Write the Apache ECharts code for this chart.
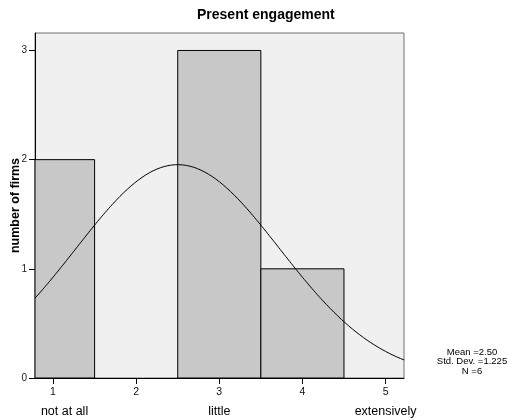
<!DOCTYPE html>
<html>
<head>
<meta charset="utf-8">
<script src="https://cdn.jsdelivr.net/npm/echarts@6/dist/echarts.min.js"></script>
<style>
  html, body { margin: 0; padding: 0; background: #ffffff; }
  #chart { width: 508px; height: 420px; }
</style>
</head>
<body>
<div id="chart"></div>
<script>
// Histogram of present engagement (1 = not at all ... 5 = extensively)
const binCenters = [1, 2, 3, 4, 5];
const binCounts = [2, 0, 3, 1, 0];
const xTickValues = [1, 2, 3, 4, 5];
const yTickValues = [0, 1, 2, 3];
const scaleLabels = { 1: 'not at all', 3: 'little', 5: 'extensively' };

// Summary statistics shown beside the plot
const statMean = 2.5;
const statSd = 1.225;
const statN = 6;
const binWidth = 1;

const xMin = 0.783, xMax = 5.222;
const yMin = 0, yMax = 3.16;
const FONT = '"Liberation Sans", Arial, sans-serif';

// Bars as [left edge, right edge, count]
const histData = binCenters
  .map((c, i) => [c - binWidth / 2, c + binWidth / 2, binCounts[i]])
  .filter(d => d[2] > 0);

// Fitted normal curve scaled to the frequency axis
const curveData = [];
for (let k = 0; k <= 200; k++) {
  const x = xMin + (xMax - xMin) * k / 200;
  const z = (x - statMean) / statSd;
  const y = statN * binWidth / (statSd * Math.sqrt(2 * Math.PI)) * Math.exp(-0.5 * z * z);
  curveData.push([x, y]);
}

const chart = echarts.init(document.getElementById('chart'), null, { renderer: 'canvas' });

chart.setOption({
  animation: false,
  backgroundColor: '#ffffff',
  title: {
    text: 'Present engagement',
    left: 192,
    top: 3,
    textStyle: { fontFamily: FONT, fontSize: 14, fontWeight: 'bold', color: '#000' }
  },
  grid: {
    left: 35, right: 104, top: 33, bottom: 42,
    containLabel: false,
    outerBoundsMode: 'none',
    show: true,
    backgroundColor: '#f0f0f0',
    borderColor: '#707070',
    borderWidth: 1
  },
  xAxis: [
    {
      type: 'value',
      min: xMin, max: xMax,
      axisLine: { show: true, onZero: false, lineStyle: { color: '#000', width: 1 } },
      axisTick: { show: true, length: 6, customValues: xTickValues, lineStyle: { color: '#000' } },
      axisLabel: {
        customValues: xTickValues, margin: 9,
        fontFamily: FONT, fontSize: 10.5, color: '#111'
      },
      splitLine: { show: false }
    },
    {
      type: 'value',
      position: 'bottom',
      offset: 19,
      min: xMin, max: xMax,
      axisLine: { show: false },
      axisTick: { show: false },
      axisLabel: {
        customValues: [1, 3, 5],
        margin: 8,
        fontFamily: FONT, fontSize: 12.5, color: '#000',
        formatter: v => v === 1 ? '{pad|' + scaleLabels[v] + '}' : scaleLabels[v] || '',
        rich: { pad: { fontFamily: FONT, fontSize: 12.5, color: '#000', padding: [0, 0, 0, 23] } }
      },
      splitLine: { show: false }
    }
  ],
  yAxis: {
    type: 'value',
    min: yMin, max: yMax,
    name: 'number of firms',
    nameLocation: 'middle',
    nameGap: 13,
    nameMoveOverlap: false,
    nameTextStyle: { fontFamily: FONT, fontSize: 12.5, fontWeight: 'bold', color: '#000' },
    axisLine: { show: true, lineStyle: { color: '#000', width: 1 } },
    axisTick: { show: true, length: 6, customValues: yTickValues, lineStyle: { color: '#000' } },
    axisLabel: {
      customValues: yTickValues, margin: 8,
      fontFamily: FONT, fontSize: 10, color: '#222'
    },
    splitLine: { show: false }
  },
  graphic: [
    {
      type: 'text',
      x: 472,
      y: 347.5,
      style: {
        text: 'Mean =' + statMean.toFixed(2) + '\nStd. Dev. =' + statSd.toFixed(3) + '\nN =' + statN,
        fontFamily: FONT,
        fontSize: 9.5,
        lineHeight: 9.5,
        fill: '#000',
        align: 'center',
        verticalAlign: 'top'
      }
    }
  ],
  series: [
    {
      type: 'custom',
      xAxisIndex: 0,
      data: histData,
      renderItem: function (params, api) {
        const p0 = api.coord([api.value(0), api.value(2)]);
        const p1 = api.coord([api.value(1), 0]);
        const rect = echarts.graphic.clipRectByRect(
          { x: p0[0], y: p0[1], width: p1[0] - p0[0], height: p1[1] - p0[1] },
          { x: params.coordSys.x, y: params.coordSys.y, width: params.coordSys.width, height: params.coordSys.height }
        );
        if (!rect) return;
        return {
          type: 'rect',
          shape: rect,
          style: { fill: '#c8c8c8', stroke: '#000', lineWidth: 1 }
        };
      },
      encode: { x: [0, 1], y: 2 },
      z: 2
    },
    {
      type: 'line',
      xAxisIndex: 0,
      data: curveData,
      showSymbol: false,
      symbol: 'none',
      smooth: false,
      clip: true,
      lineStyle: { color: '#000', width: 1 },
      z: 3
    }
  ]
});
</script>
</body>
</html>
